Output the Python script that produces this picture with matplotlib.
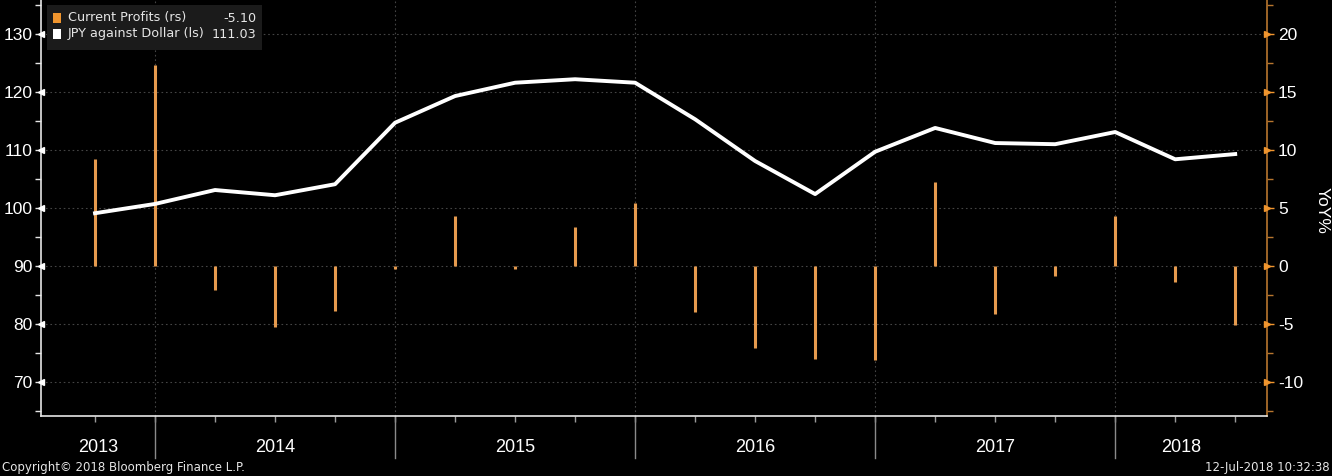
import matplotlib
matplotlib.use("Agg")
import matplotlib.pyplot as plt
from matplotlib.patches import Rectangle
import numpy as np

plt.rcParams["axes.unicode_minus"] = False

# ---------------- data ----------------
quarters = ["2013Q3", "2013Q4", "2014Q1", "2014Q2", "2014Q3", "2014Q4",
            "2015Q1", "2015Q2", "2015Q3", "2015Q4", "2016Q1", "2016Q2",
            "2016Q3", "2016Q4", "2017Q1", "2017Q2", "2017Q3", "2017Q4",
            "2018Q1", "2018Q2"]
profits_yoy = [9.2, 17.3, -2.1, -5.3, -3.9, -0.3, 4.3, -0.3, 3.4, 5.4,
               -4.0, -7.1, -8.0, -8.1, 7.2, -4.1, -0.9, 4.3, -1.4, -5.1]
jpy_usd = [99.1, 100.7, 103.1, 102.2, 104.1, 114.7, 119.3, 121.6, 122.2, 121.6,
           115.3, 108.1, 102.4, 109.7, 113.8, 111.2, 111.0, 113.1, 108.4, 109.3]
years = ["2013", "2014", "2015", "2016", "2017", "2018"]
left_ticks = [70, 80, 90, 100, 110, 120, 130]
right_ticks = [-10, -5, 0, 5, 10, 15, 20]
legend_labels = ["Current Profits (rs)", "JPY against Dollar (ls)"]
legend_values = ["-5.10", "111.03"]

ORANGE = "#F0952E"
BAR = "#E59A4E"
WHITE = "#FFFFFF"
GRID = "#444444"
FG = "#E6E6E6"
NUMFONT = "Liberation Sans"

W, H = 1332, 476
fig = plt.figure(figsize=(W / 100, H / 100), dpi=100, facecolor="black")
ax = fig.add_axes([41 / W, 1 - 416 / H, (1267 - 41) / W, 416 / H])
ax2 = ax.twinx()
ax.set_zorder(ax2.get_zorder() + 1)
ax.patch.set_visible(False)
ax2.set_facecolor("black")

x = np.arange(len(quarters))
ax.set_xlim(-0.9, 19.53)
ylo, yhi = 64.14, 135.86
ax.set_ylim(ylo, yhi)
ax2.set_ylim((ylo - 90) / 2, (yhi - 90) / 2)

# grid (on the lower axes so bars/line sit above)
for v in right_ticks:
    ax2.axhline(v, color=GRID, linestyle=(0, (1.5, 2.5)), linewidth=0.8, zorder=1)
year_bounds = [1, 5, 9, 13, 17]
for b in year_bounds:
    ax2.axvline(b, color=GRID, linestyle=(0, (1.5, 2.5)), linewidth=0.8, zorder=1)

# bars (right scale)
ax2.vlines(x, 0, profits_yoy, color=BAR, linewidth=2.2, zorder=3)
# line (left scale)
ax.plot(x, jpy_usd, color=WHITE, linewidth=2.8, zorder=4)

# spines
for s in ["top"]:
    ax.spines[s].set_visible(False)
    ax2.spines[s].set_visible(False)
ax.spines["right"].set_visible(False)
ax2.spines["left"].set_visible(False)
ax2.spines["bottom"].set_visible(False)
ax.spines["left"].set_color(FG)
ax.spines["bottom"].set_color(FG)
ax2.spines["right"].set_color("#B8762E")
for sp in [ax.spines["left"], ax.spines["bottom"], ax2.spines["right"]]:
    sp.set_linewidth(1.2)

# left ticks
ax.set_yticks(left_ticks)
ax.set_yticks(np.arange(65, 136, 10), minor=True)
ax.tick_params(axis="y", which="major", colors=FG, labelcolor=WHITE, length=4,
               width=1, labelsize=12.5, pad=2)
ax.tick_params(axis="y", which="minor", colors=FG, length=4, width=1)
for lab in ax.get_yticklabels():
    lab.set_fontfamily(NUMFONT)
ax.plot(np.zeros(len(left_ticks)), left_ticks, transform=ax.get_yaxis_transform(),
        linestyle="none", marker="<", markersize=5, color=WHITE, clip_on=False,
        zorder=5)

# right ticks
ax2.set_yticks(right_ticks)
ax2.set_yticklabels([str(t) for t in right_ticks])
ax2.set_yticks(np.arange(-12.5, 22.6, 5), minor=True)
ax2.tick_params(axis="y", which="major", colors=ORANGE, labelcolor=WHITE, length=5,
                width=1, labelsize=12.5, pad=3)
ax2.tick_params(axis="y", which="minor", colors="#B8762E", length=4, width=1)
for lab in ax2.get_yticklabels():
    lab.set_fontfamily(NUMFONT)
ax2.plot(np.ones(len(right_ticks)), right_ticks, transform=ax2.get_yaxis_transform(),
         linestyle="none", marker=">", markersize=5, color=ORANGE, clip_on=False,
         zorder=5)
ax2.set_ylabel("YoY%", color=WHITE, fontsize=12.5, rotation=270, fontfamily=NUMFONT,
               va="center", ha="center")
ax2.yaxis.set_label_coords(1 + (1322 - 1267) / 1226, 1 - 210 / 416)

# x ticks: quarterly minor ticks, year labels as text
ax.set_xticks([])
ax.set_xticks(x, minor=True)
ax.tick_params(axis="x", which="minor", colors="#9a9a9a", length=4, width=1)
ax.set_xticklabels([])
ax2.set_xticks([])

sep_h = 42 / 416
for b in year_bounds:
    ax.plot([b, b], [0, -sep_h], transform=ax.get_xaxis_transform(),
            color="#8a8a8a", linewidth=1, clip_on=False)
year_centers = [0.05, 3, 7, 11, 15, 18.1]
for yc, lab in zip(year_centers, years):
    ax.text(yc, -31 / 416, lab, transform=ax.get_xaxis_transform(),
            ha="center", va="center", color=WHITE, fontsize=13, fontfamily=NUMFONT)

# legend box
def fx(px):
    return px / W

def fy(py):
    return 1 - py / H

fig.patches.append(Rectangle((fx(47), fy(50)), fx(262) - fx(47), fy(5) - fy(50),
                             transform=fig.transFigure, facecolor="#1b1b1b",
                             edgecolor="none", zorder=10))
for i, (lab, val, col) in enumerate(zip(legend_labels, legend_values, [ORANGE, WHITE])):
    yc = 18 + i * 16
    fig.patches.append(Rectangle((fx(53), fy(yc + 5)), fx(8), 10 / H,
                                 transform=fig.transFigure, facecolor=col,
                                 edgecolor="none", zorder=11))
    fig.text(fx(68), fy(yc), lab, color=FG, fontsize=9.2, ha="left", va="center",
             zorder=12, fontfamily="DejaVu Sans")
    fig.text(fx(256), fy(yc), val, color=FG, fontsize=9.2, ha="right", va="center",
             zorder=12, fontfamily="DejaVu Sans")

# footer
fig.text(fx(2), fy(467), "Copyright\u00a9 2018 Bloomberg Finance L.P.", color=FG,
         fontsize=8.5, ha="left", va="center")
fig.text(fx(1330), fy(467), "12-Jul-2018 10:32:38", color=FG, fontsize=8.5,
         ha="right", va="center")

fig.savefig("out.png", dpi=100, facecolor="black")
